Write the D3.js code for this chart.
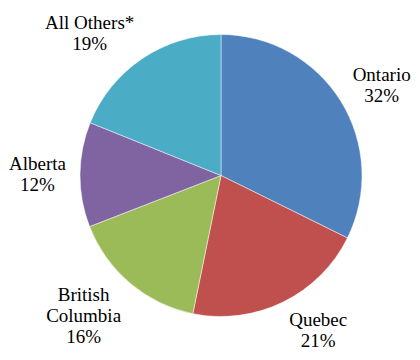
<!DOCTYPE html>
<html>
<head>
<meta charset="utf-8">
<script src="https://cdn.jsdelivr.net/npm/d3@7"></script>
<style>
  html, body { margin: 0; padding: 0; background: #fff; }
  svg text { font-family: "Liberation Serif", "Times New Roman", serif; font-size: 19px; fill: #000; }
</style>
</head>
<body>
<svg id="chart" width="420" height="360"></svg>
<script>
// share by province
var provinces = ["Ontario", "Quebec", "British Columbia", "Alberta", "All Others*"];
var shares = [32.3, 20.9, 15.9, 12.0, 18.9];
var labelLines = [["Ontario"], ["Quebec"], ["British", "Columbia"], ["Alberta"], ["All Others*"]];
var colors = ["#4F81BD", "#C0504D", "#9BBB59", "#8064A2", "#4BACC6"];

var svg = d3.select("#chart");
var cx = 221, cy = 175.5, radius = 141;
var lineH = 21, capH = 13;

var data = provinces.map(function(p, i) {
  return { name: p, value: shares[i], lines: labelLines[i], color: colors[i] };
});

var pie = d3.pie().sort(null).value(function(d) { return d.value; });
var arc = d3.arc().innerRadius(0).outerRadius(radius);
var labelArc = d3.arc().innerRadius(155).outerRadius(155);

var g = svg.append("g").attr("transform", "translate(" + cx + "," + cy + ")");
var arcs = pie(data);

g.selectAll("path")
    .data(arcs)
  .enter().append("path")
    .attr("d", arc)
    .attr("fill", function(d) { return d.data.color; })
    .attr("stroke", "#fff")
    .attr("stroke-width", 0.8)
    .attr("stroke-opacity", 0.6);

var fmt = d3.format(".0f");

arcs.forEach(function(d) {
  var lines = d.data.lines.concat([fmt(d.data.value) + "%"]);
  var mid = (d.startAngle + d.endAngle) / 2;
  var dx = Math.sin(mid), dy = -Math.cos(mid);
  var p = labelArc.centroid(d);

  var t = g.append("text").attr("text-anchor", "middle");
  lines.forEach(function(l) { t.append("tspan").text(l); });

  // box width from the widest line, then push the box outward
  var w = 0;
  t.selectAll("tspan").each(function() { w = Math.max(w, this.getComputedTextLength()); });
  var h = capH + lineH * (lines.length - 1);
  var bx = p[0] + (dx >= 0 ? 1 : -1) * w / 2;
  var by = p[1] + dy * h / 2;

  t.selectAll("tspan")
      .attr("x", bx)
      .attr("y", function(_, i) { return by - h / 2 + capH + i * lineH; });
});
</script>
</body>
</html>
